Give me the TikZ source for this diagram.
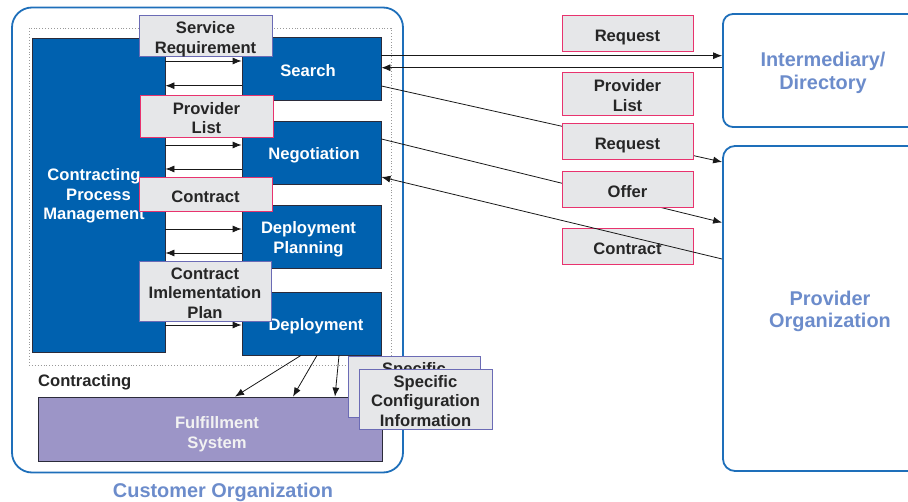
\documentclass[tikz,border=0pt]{standalone}
\usepackage{fontspec}
\setmainfont{Liberation Sans}
\usetikzlibrary{arrows.meta}
\definecolor{blockblue}{HTML}{0061AF}
\definecolor{blockedge}{HTML}{2B2B3A}
\definecolor{labelfill}{HTML}{E6E7E9}
\definecolor{pinkedge}{HTML}{E8336E}
\definecolor{purpleedge}{HTML}{6B6BB5}
\definecolor{orgedge}{HTML}{1E6FBA}
\definecolor{orgtext}{HTML}{6C8CCB}
\definecolor{fulfill}{HTML}{9C95C7}
% struts giving every text line the same ascent/descent
\newcommand\topstrut[1][17.8pt]{\rule{0pt}{#1}}
\newcommand\botstrut{\rule[-3.5pt]{0pt}{3.5pt}}
\tikzset{
  txt/.style={font=\fontsize{16.6}{19.4}\selectfont\bfseries, align=center,
    execute at begin node={\topstrut},
    execute at end node={\botstrut}},
  block/.style={txt, draw=blockedge, line width=0.8pt, fill=blockblue, text=white, inner sep=0pt},
  fulbox/.style={txt, draw=blockedge, line width=0.8pt, fill=fulfill, text=white!95!black, inner sep=0pt},
  label/.style={txt, fill=labelfill, line width=1pt, text=black!85, inner sep=0pt},
  pinklabel/.style={label, draw=pinkedge},
  purplelabel/.style={label, draw=purpleedge},
  orgbox/.style={draw=orgedge, line width=1.8pt, inner sep=0pt},
  orgname/.style={font=\fontsize{19.9}{22.8}\selectfont\bfseries, text=orgtext, align=center},
  arr/.style={draw=black!90, line width=0.8pt, -{Latex[length=9pt,width=7pt]}},
  sz/.style 2 args={minimum width=#1pt, minimum height=#2pt},
}
\begin{document}
\begin{tikzpicture}[x=1pt, y=-1pt]
\useasboundingbox (0,0) rectangle (908,502);

% organisation frames
\node[orgbox, rounded corners=20pt, sz={391}{465}] (cust) at (207.5,240) {};
\node[orgname] (custname) at (223,492) {Customer Organization};
\node[orgbox, rounded corners=10pt, sz={217}{113}] (inter) at (831.5,70.5) {};
\node[orgname] (intername) at (823,73) {Intermediary/\\Directory};
\node[orgbox, rounded corners=12pt, sz={217}{325}] (prov) at (831.5,308.5) {};
\node[orgname] (provname) at (830,311.5) {Provider\\Organization};

% contracting area
\node[draw=gray!80, dotted, line width=0.9pt, sz={362}{337}] (contracting) at (210,196.5) {};
\node[font=\fontsize{16.6}{19.4}\selectfont\bfseries, anchor=west, text=black!85, inner sep=0pt] (contractingname) at (38,382) {Contracting};

% process blocks
\node[block, sz={133}{314}] (cpm) at (98.5,195)
  {\topstrut[13.8pt]Contracting\hspace*{9pt}\\Process\hspace*{9pt}\\Management\hspace*{9pt}};
\node[block, sz={139}{63.7}] (search) at (311.5,68.9) {Search\hspace*{7pt}};
\node[block, sz={139}{63}] (nego) at (311.5,152.5) {\hspace*{5pt}Negotiation};
\node[block, sz={139}{63}] (dplan) at (311.5,236.5) {\topstrut Deployment\hspace*{6pt}\\Planning\hspace*{6pt}};
\node[block, sz={139}{63}] (deploy) at (311.5,323.5) {\hspace*{9pt}Deployment};
\node[fulbox, sz={344}{64}] (ful) at (210,429) {\topstrut[22.7pt]\hspace*{14pt}Fulfillment\\\hspace*{14pt}System};

% internal flows
\draw[arr] (cpm.east |- 0,61) -- (search.west |- 0,61);
\draw[arr] (search.west |- 0,85.7) -- (cpm.east |- 0,85.7);
\draw[arr] (cpm.east |- 0,145) -- (nego.west |- 0,145);
\draw[arr] (nego.west |- 0,169) -- (cpm.east |- 0,169);
\draw[arr] (cpm.east |- 0,229) -- (dplan.west |- 0,229);
\draw[arr] (dplan.west |- 0,253) -- (cpm.east |- 0,253);
\draw[arr] (cpm.east |- 0,325) -- (deploy.west |- 0,325);
\draw[arr] (301,0 |- deploy.south) -- (235,0 |- ful.north);
\draw[arr] (317,0 |- deploy.south) -- (293,0 |- ful.north);
\draw[arr] (339,0 |- deploy.south) -- (335,0 |- ful.north);

% external flows
\draw[arr] (search.east |- 0,55.7) -- (inter.west |- 0,55.7);
\draw[arr] (inter.west |- 0,67.7) -- (search.east |- 0,67.7);
\draw[arr] (search.east |- 0,86) -- (prov.west |- 0,162);
\draw[arr] (nego.east |- 0,139) -- (prov.west |- 0,222.5);

% exchanged documents
\node[purplelabel, sz={133}{41}] (sreq) at (205.5,36.5) {\topstrut Service\\Requirement};
\node[pinklabel, sz={133}{42}] (plistin) at (206.5,117) {\topstrut Provider\\List};
\node[pinklabel, sz={133}{34}] (contractin) at (205.5,195) {Contract};
\node[purplelabel, sz={132}{57}] (cip) at (205,291.5) {\topstrut Contract\\Imlementation\\Plan};
\node[purplelabel, sz={132}{58}] (specback) at (414,387) {\topstrut Specific\\Configuration\\Information};
\node[purplelabel, sz={133}{57}] (spec) at (425.5,399.5) {\topstrut Specific\\Configuration\\Information};

\node[pinklabel, sz={131}{36}] (req) at (627.5,34) {Request};
\node[pinklabel, sz={131}{43}] (plistout) at (627.5,94.5) {\topstrut Provider\\List};
\node[pinklabel, sz={131}{36}] (reqprov) at (627.5,142) {Request};
\node[pinklabel, sz={131}{36}] (offer) at (627.5,190) {Offer};
\node[pinklabel, sz={131}{36}] (contractout) at (627.5,247) {Contract};

% signed contract back to negotiation
\draw[arr] (prov.west |- 0,259) -- (nego.east |- 0,177);
\end{tikzpicture}
\end{document}
